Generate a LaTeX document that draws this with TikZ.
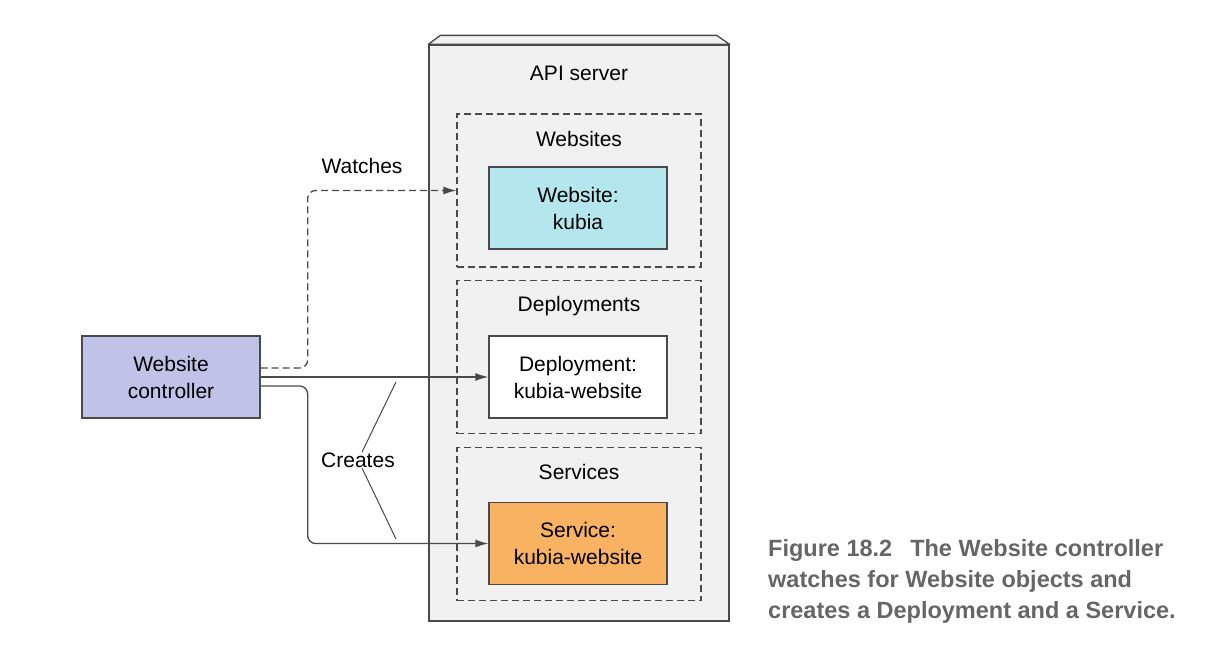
\documentclass[tikz,border=0pt]{standalone}
\usepackage{fontspec}
\setmainfont{Liberation Sans}
\usepackage{tikz}
\usetikzlibrary{arrows.meta,positioning,calc}

\definecolor{apigray}{HTML}{F1F1F1}
\definecolor{edgegray}{HTML}{4A4A4A}
\definecolor{webcyan}{HTML}{B4E6EE}
\definecolor{ctrlpurple}{HTML}{C0C2E8}
\definecolor{svcorange}{HTML}{F9B262}
\definecolor{captiongray}{HTML}{666666}

\tikzset{
  objbox/.style={draw=edgegray, line width=1.3pt, minimum width=178pt, minimum height=82pt,
    align=center, font=\fontsize{21}{27}\selectfont},
  groupbox/.style={draw=edgegray, dashed, dash pattern=on 7pt off 4pt, line width=1.2pt,
    minimum width=244pt, minimum height=153pt},
  lbl/.style={font=\fontsize{21}{27}\selectfont},
  conn/.style={draw=edgegray, line width=1.3pt, -{Latex[length=13pt,width=8pt]}}
}

\begin{document}
\begin{tikzpicture}[x=1pt,y=-1pt]
\useasboundingbox (0,0) rectangle (1229,657);

% API server
\node[draw=edgegray, fill=apigray, line width=1.3pt, minimum width=300pt, minimum height=576pt]
  (api) at (579,333) {};
\filldraw[draw=edgegray, fill=apigray, line width=1.3pt, line join=round]
  (api.north west) -- ++(12,-9) -- ($(api.north east)+(-13,-9)$) -- (api.north east) -- cycle;
\node[lbl] (apilabel) at (579,73) {API server};

% Groups
\node[groupbox] (websites) at (579,190.5) {};
\node[lbl] (websiteslabel) at (579,139) {Websites};
\node[groupbox] (deployments) at (579,357) {};
\node[lbl] (deploymentslabel) at (579,306) {Deployments};
\node[groupbox] (services) at (579,524) {};
\node[lbl] (serviceslabel) at (579,472) {Services};

% Objects
\node[objbox, fill=webcyan] (web) at (578,208) {Website:\\kubia};
\node[objbox, fill=white] (dep) at (578,377) {Deployment:\\kubia-website};
\node[objbox, fill=svcorange] (svc) at (578,543.5) {Service:\\kubia-website};

% Controller
\node[objbox, fill=ctrlpurple] (ctrl) at (171,377) {Website\\controller};

% Watches
\draw[conn, dashed, dash pattern=on 7pt off 4pt, rounded corners=8pt]
  ([yshift=9pt]ctrl.east) -- ++(47,0) |- (websites.west);
\node[lbl] (watches) at (362,166) {Watches};

% Creates
\draw[conn] (ctrl.east) -- (dep.west);
\draw[conn, rounded corners=8pt] ([yshift=-9pt]ctrl.east) -- ++(47,0) |- (svc.west);
\node[lbl] (creates) at (358,460) {Creates};
\coordinate (creatsup) at (396,382);
\coordinate (creatsdown) at (396,539);
\draw[edgegray, line width=1pt] ($(creates.north)+(4,3)$) -- (creatsup);
\draw[edgegray, line width=1pt] ($(creates.south)+(4,-3)$) -- (creatsdown);

% Caption
\node[anchor=base west, align=left, inner sep=0pt, text=captiongray, font=\bfseries\fontsize{23.5}{31}\selectfont]
  (caption) at (768,618) {Figure 18.2\hspace{18pt}The Website controller\\
  watches for Website objects and\\creates a Deployment and a Service.};
\end{tikzpicture}
\end{document}
